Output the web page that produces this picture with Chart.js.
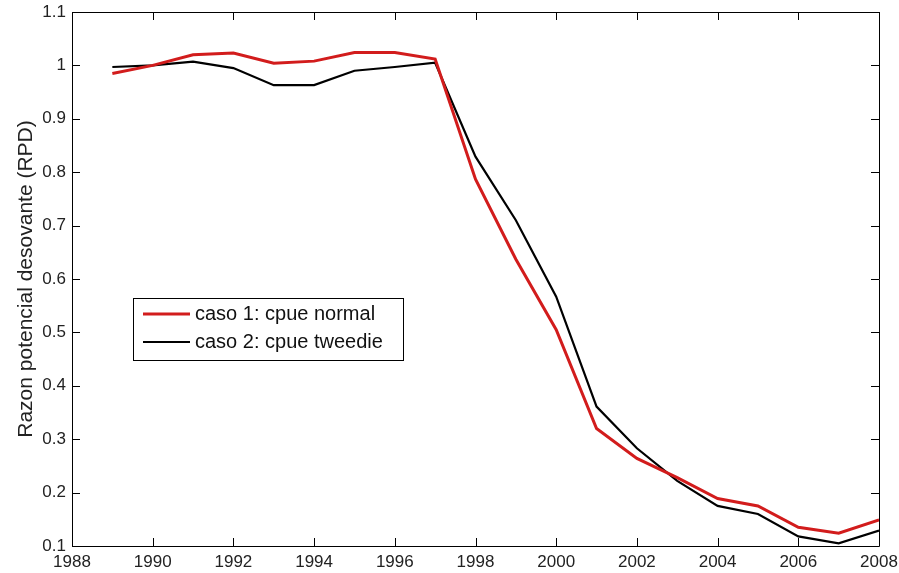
<!DOCTYPE html>
<html>
<head>
<meta charset="utf-8">
<script src="https://cdn.jsdelivr.net/npm/chart.js@4/dist/chart.umd.min.js"></script>
<style>
  html, body { margin: 0; padding: 0; background: #fff; }
  #wrap { width: 899px; height: 573px; }
</style>
</head>
<body>
<div id="wrap"><canvas id="rpdChart" width="899" height="573"></canvas></div>
<script>
// years and the two RPD series
var years = [1989, 1990, 1991, 1992, 1993, 1994, 1995, 1996, 1997, 1998,
             1999, 2000, 2001, 2002, 2003, 2004, 2005, 2006, 2007, 2008];
var caso1 = [0.985, 1.000, 1.020, 1.023, 1.004, 1.008, 1.024, 1.024, 1.012, 0.787,
             0.637, 0.505, 0.320, 0.264, 0.228, 0.189, 0.175, 0.135, 0.124, 0.149];
var caso2 = [0.997, 1.000, 1.007, 0.995, 0.963, 0.963, 0.990, 0.997, 1.005, 0.829,
             0.710, 0.567, 0.361, 0.283, 0.222, 0.175, 0.160, 0.118, 0.105, 0.129];
var seriesNames = ['caso 1: cpue normal', 'caso 2: cpue tweedie'];
var xTicks = [1988, 1990, 1992, 1994, 1996, 1998, 2000, 2002, 2004, 2006, 2008];

var FONT = "'Liberation Sans', Arial, sans-serif";

function pts(vals) {
    return years.map(function (y, i) { return { x: y, y: vals[i] }; });
}

// matlab style box with inward ticks + legend box
var matlabFrame = {
    id: 'matlabFrame',
    afterDraw: function (chart) {
        var c = chart.ctx, a = chart.chartArea;
        var xs = chart.scales.x, ys = chart.scales.y;
        var len = 8;
        c.save();
        c.strokeStyle = '#000';
        c.lineWidth = 1;
        c.beginPath();
        c.rect(a.left + 0.5, a.top + 0.5, a.right - a.left, a.bottom - a.top);
        xs.ticks.forEach(function (t) {
            var px = Math.round(xs.getPixelForValue(t.value)) + 0.5;
            c.moveTo(px, a.bottom); c.lineTo(px, a.bottom - len);
            c.moveTo(px, a.top); c.lineTo(px, a.top + len);
        });
        ys.ticks.forEach(function (t) {
            var py = Math.round(ys.getPixelForValue(t.value)) + 0.5;
            c.moveTo(a.left, py); c.lineTo(a.left + len, py);
            c.moveTo(a.right, py); c.lineTo(a.right - len, py);
        });
        c.stroke();

        // legend
        var lx = 133, ly = 298, lw = 270, lh = 62;
        c.fillStyle = '#fff';
        c.fillRect(lx, ly, lw, lh);
        c.strokeStyle = '#000';
        c.lineWidth = 1;
        c.strokeRect(lx + 0.5, ly + 0.5, lw, lh);
        c.font = '20px ' + FONT;
        c.textBaseline = 'middle';
        chart.data.datasets.forEach(function (ds, i) {
            var yy = ly + 16 + i * 28;
            c.strokeStyle = ds.borderColor;
            c.lineWidth = ds.borderWidth;
            c.beginPath();
            c.moveTo(lx + 10, yy); c.lineTo(lx + 57, yy);
            c.stroke();
            c.fillStyle = '#111';
            c.fillText(ds.label, lx + 62, yy);
        });
        c.restore();
    }
};

var ctx = document.getElementById('rpdChart').getContext('2d');
var chart = new Chart(ctx, {
    type: 'line',
    data: {
        datasets: [{
            label: seriesNames[0],
            data: pts(caso1),
            borderColor: '#d21c1c',
            borderWidth: 3,
            pointRadius: 0,
            tension: 0,
            fill: false
        }, {
            label: seriesNames[1],
            data: pts(caso2),
            borderColor: '#000000',
            borderWidth: 2.2,
            pointRadius: 0,
            tension: 0,
            fill: false
        }]
    },
    options: {
        responsive: false,
        animation: false,
        layout: {
            padding: { left: 0, right: 20, top: 12, bottom: 0 }
        },
        plugins: {
            legend: { display: false },
            tooltip: { enabled: false }
        },
        scales: {
            x: {
                type: 'linear',
                min: 1988,
                max: 2008,
                grid: { display: false, drawTicks: false },
                border: { display: false },
                afterBuildTicks: function (s) {
                    s.ticks = xTicks.map(function (v) { return { value: v }; });
                },
                afterFit: function (s) {
                    s.height = 27;
                    s.paddingLeft = 0;
                    s.paddingRight = 0;
                },
                ticks: {
                    padding: 6,
                    color: '#222',
                    font: { family: FONT, size: 17 },
                    maxRotation: 0,
                    callback: function (v) { return String(v); }
                }
            },
            y: {
                min: 0.1,
                max: 1.1,
                grid: { display: false, drawTicks: false },
                border: { display: false },
                afterFit: function (s) {
                    s.width = 72;
                    s.paddingTop = 0;
                    s.paddingBottom = 0;
                },
                ticks: {
                    stepSize: 0.1,
                    padding: 6,
                    color: '#222',
                    font: { family: FONT, size: 17 },
                    callback: function (v) { return String(Number(v.toFixed(1))); }
                },
                title: {
                    display: true,
                    text: 'Razon potencial desovante (RPD)',
                    color: '#222',
                    padding: { top: 14, bottom: 0 },
                    font: { family: FONT, size: 21 }
                }
            }
        }
    },
    plugins: [matlabFrame]
});
</script>
</body>
</html>
